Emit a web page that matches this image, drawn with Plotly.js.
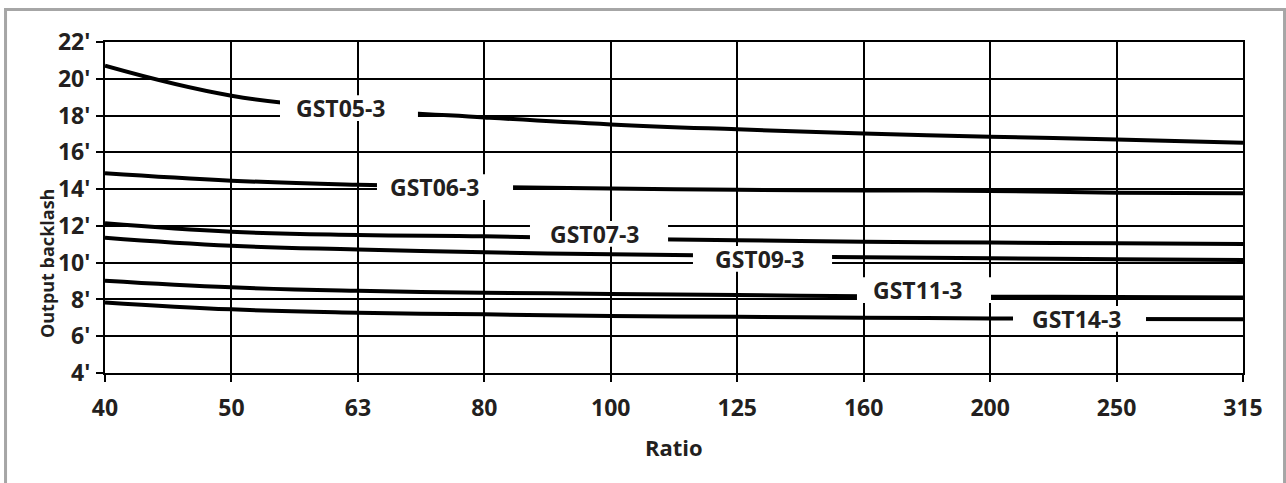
<!DOCTYPE html>
<html>
<head>
<meta charset="utf-8">
<script src="https://cdn.plot.ly/plotly-3.0.1.min.js"></script>
<style>
html,body{margin:0;padding:0;background:#ffffff;}
#chart{width:1286px;height:483px;}
</style>
</head>
<body>
<div id="chart"></div>
<script>
// ---- data ----
const ratios = ['40','50','63','80','100','125','160','200','250','315'];
const gst05 = [20.71,19.08,18.35,17.90,17.52,17.25,17.02,16.85,16.70,16.52];
const gst06 = [14.86,14.46,14.24,14.12,14.04,13.96,13.93,13.90,13.80,13.77];
const gst07 = [12.14,11.68,11.50,11.43,11.30,11.22,11.14,11.09,11.05,11.01];
const gst09 = [11.36,10.92,10.72,10.56,10.46,10.37,10.29,10.24,10.18,10.14];
const gst11 = [9.02,8.66,8.47,8.37,8.30,8.24,8.17,8.15,8.13,8.10];
const gst14 = [7.84,7.46,7.28,7.19,7.10,7.06,7.01,6.97,6.94,6.92];
const seriesNames = ['GST05-3','GST06-3','GST07-3','GST09-3','GST11-3','GST14-3'];
const yTickVals = [4,6,8,10,12,14,16,18,20,22];
const yTickText = ["4'","6'","8'","10'","12'","14'","16'","18'","20'","22'"];
const xTitle = 'Ratio';
const yTitle = 'Output backlash';

// ---- label placement (category index / y units) ----
const labelPos = [
  {x0:1.384, x1:2.475, tx:1.495, y:18.41},
  {x0:2.151, x1:3.227, tx:2.238, y:14.11},
  {x0:3.361, x1:4.453, tx:3.504, y:11.56},
  {x0:4.650, x1:5.750, tx:4.809, y:10.20},
  {x0:5.947, x1:7.007, tx:6.058, y:8.51},
  {x0:7.181, x1:8.233, tx:7.316, y:6.94}
];
const boxHalf = 0.70;

const seriesData = [gst05, gst06, gst07, gst09, gst11, gst14];
const textColor = '#231f20';
const fontFam = '"Open Sans", "Noto Sans", sans-serif';

const traces = seriesData.map((vals, i) => ({
  type: 'scatter',
  mode: 'lines',
  name: seriesNames[i],
  x: ratios,
  y: vals,
  line: {color: '#000000', width: 4, shape: 'spline', smoothing: 1.2},
  hoverinfo: 'skip',
  showlegend: false
}));

const shapes = labelPos.map(p => ({
  type: 'rect', xref: 'x', yref: 'y',
  x0: p.x0, x1: p.x1, y0: p.y - boxHalf, y1: p.y + boxHalf,
  fillcolor: '#ffffff', line: {width: 0}, layer: 'above'
}));
// outer grey frame
shapes.push({
  type: 'rect', xref: 'paper', yref: 'paper',
  x0: -0.0874, x1: 1.0365, y0: -0.36, y1: 1.0982,
  fillcolor: 'rgba(0,0,0,0)', line: {color: '#a6a6a6', width: 3}, layer: 'below'
});

const annotations = labelPos.map((p, i) => ({
  xref: 'x', yref: 'y', x: p.tx, y: p.y,
  xanchor: 'left', yanchor: 'middle',
  text: seriesNames[i], showarrow: false,
  font: {family: fontFam, size: 23, color: textColor, weight: 700}
}));
annotations.push({
  xref: 'paper', yref: 'paper', x: 0.5, y: -0.2236,
  xanchor: 'center', yanchor: 'middle', showarrow: false,
  text: xTitle, font: {family: fontFam, size: 22, color: textColor, weight: 700}
});
annotations.push({
  xref: 'paper', yref: 'paper', x: -0.051, y: 0.332,
  xanchor: 'center', yanchor: 'middle', showarrow: false, textangle: -90,
  text: yTitle, font: {family: fontFam, size: 18, color: textColor, weight: 700}
});

const layout = {
  width: 1286, height: 483,
  margin: {l: 105, r: 43, t: 42, b: 110, pad: 0},
  paper_bgcolor: '#ffffff', plot_bgcolor: '#ffffff',
  showlegend: false,
  xaxis: {
    type: 'category', categoryorder: 'array', categoryarray: ratios,
    range: [0, 9], fixedrange: true,
    showgrid: true, gridcolor: '#000000', gridwidth: 2,
    showline: true, linecolor: '#000000', linewidth: 2, mirror: true,
    ticks: 'outside', ticklen: 7, tickwidth: 2, tickcolor: '#000000',
    ticklabelstandoff: 6,
    tickfont: {family: fontFam, size: 23, color: textColor, weight: 700},
    zeroline: false
  },
  yaxis: {
    range: [4, 22], fixedrange: true,
    tickvals: yTickVals, ticktext: yTickText,
    showgrid: true, gridcolor: '#000000', gridwidth: 2,
    showline: true, linecolor: '#000000', linewidth: 2, mirror: true,
    ticks: 'outside', ticklen: 7, tickwidth: 2, tickcolor: '#000000',
    ticklabelstandoff: 1,
    tickfont: {family: fontFam, size: 23, color: textColor, weight: 700},
    zeroline: false
  },
  shapes: shapes,
  annotations: annotations
};

Plotly.newPlot('chart', traces, layout, {displayModeBar: false, staticPlot: true});
</script>
</body>
</html>
